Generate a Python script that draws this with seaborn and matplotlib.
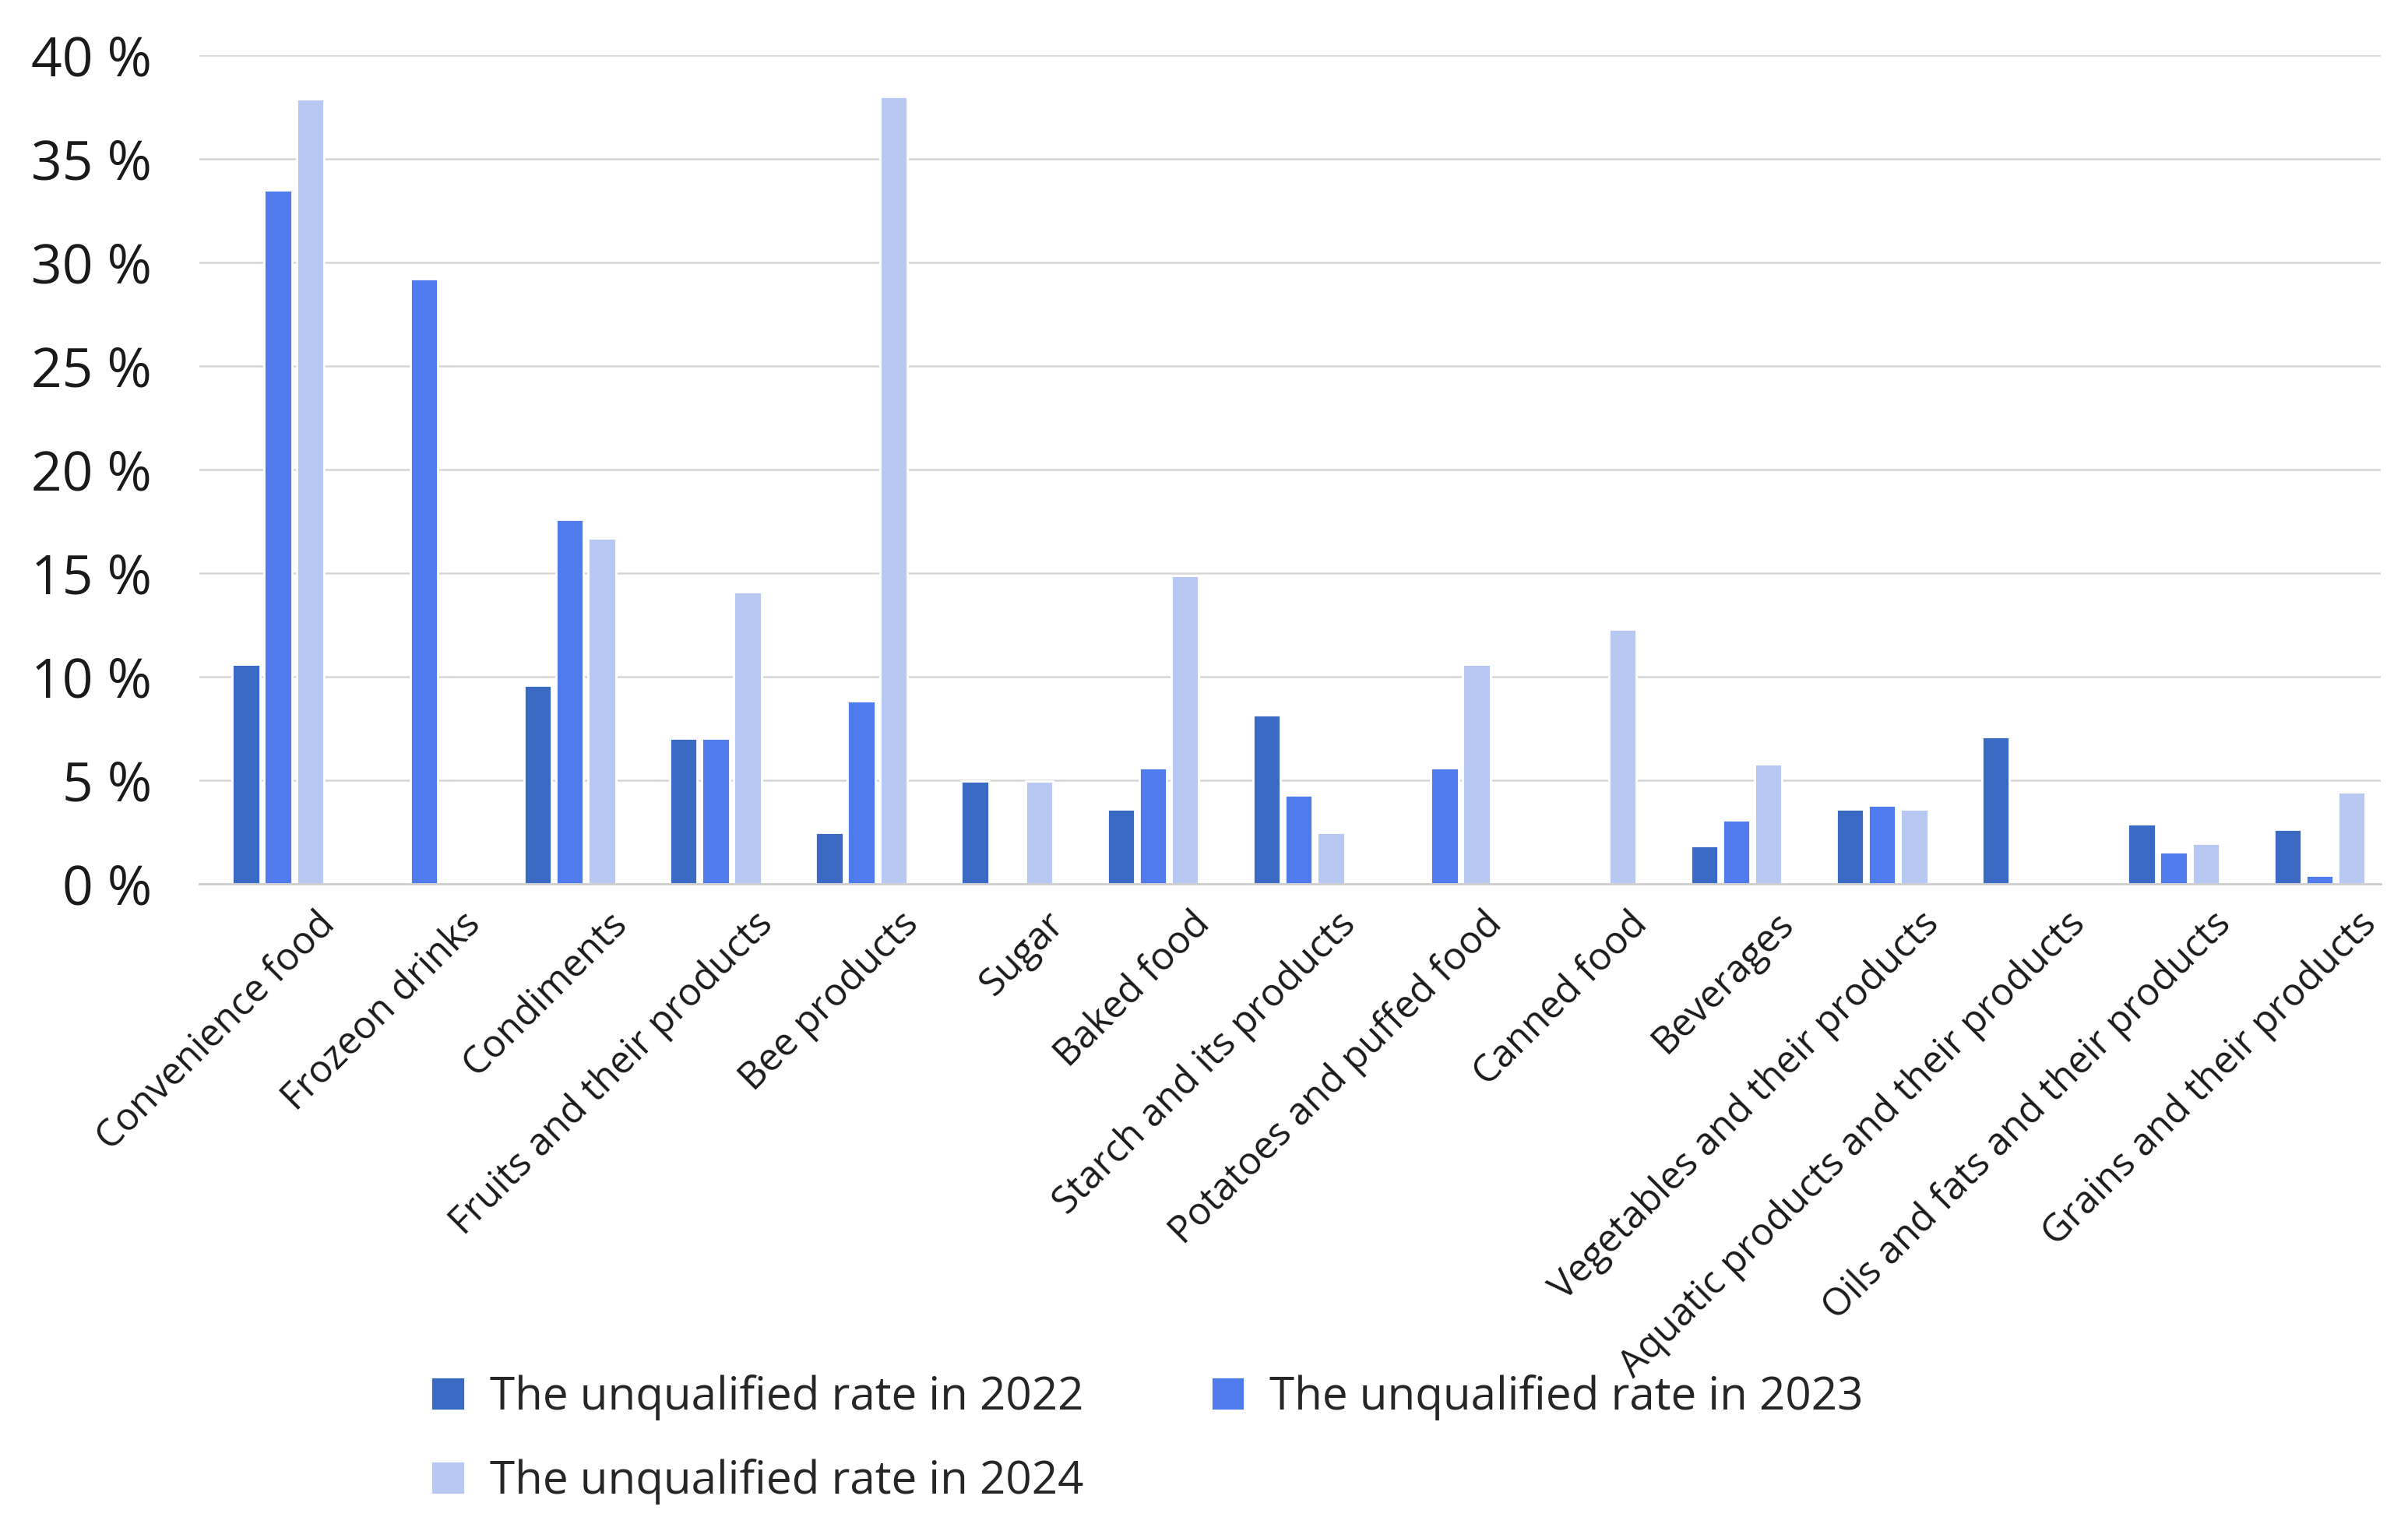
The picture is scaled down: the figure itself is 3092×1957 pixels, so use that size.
import numpy as np
import pandas as pd
import matplotlib
matplotlib.use("Agg")
import matplotlib.pyplot as plt
import matplotlib.transforms as mtransforms
import seaborn as sns

categories = ["Convenience food", "Frozeon drinks", "Condiments", "Fruits and their products",
              "Bee products", "Sugar", "Baked food", "Starch and its products",
              "Potatoes and puffed food", "Canned food", "Beverages",
              "Vegetables and their products", "Aquatic products and their products",
              "Oils and fats and their products", "Grains and their products"]
rate_2022 = [10.6, np.nan, 9.6, 7.05, 2.5, 4.95, 3.6, 8.15, np.nan, np.nan, 1.85, 3.6, 7.1, 2.9, 2.65]
rate_2023 = [33.5, 29.2, 17.6, 7.05, 8.85, np.nan, 5.6, 4.3, 5.6, np.nan, 3.1, 3.8, np.nan, 1.55, 0.4]
rate_2024 = [37.9, np.nan, 16.7, 14.1, 38.0, 4.95, 14.9, 2.5, 10.6, 12.3, 5.8, 3.6, np.nan, 1.95, 4.45]
series_names = ["The unqualified rate in 2022", "The unqualified rate in 2023", "The unqualified rate in 2024"]
colors = ["#3B6AC5", "#4F7BEC", "#B7C8F3"]
yticks = [0, 5, 10, 15, 20, 25, 30, 35, 40]
ytick_labels = [f"{v} %" for v in yticks]

rows = []
for name, vals in zip(series_names, [rate_2022, rate_2023, rate_2024]):
    for c, v in zip(categories, vals):
        rows.append({"category": c, "series": name, "rate": v})
df = pd.DataFrame(rows)

sns.set_theme(style="white")
plt.rcParams["font.family"] = ["Open Sans", "DejaVu Sans"]

fig = plt.figure(figsize=(15.46, 9.785), dpi=200)
ax = fig.add_axes([0.0828, 0.42, 0.9059, 0.5437])

sns.barplot(data=df, x="category", y="rate", hue="series", order=categories,
            hue_order=series_names, palette=colors, width=0.66, gap=0.14,
            saturation=1, ax=ax, errorbar=None)

ax.set_ylim(0, 40)
ax.set_xlim(-0.54, 14.42)
ax.set_yticks(yticks)
ax.set_yticklabels(ytick_labels, fontsize=25, color="#1a1a1a")
ax.yaxis.grid(True, color="#d6d6d6", linewidth=0.9)
ax.set_axisbelow(True)
for s in ["top", "right", "left"]:
    ax.spines[s].set_visible(False)
ax.spines["bottom"].set_color("#cccccc")
ax.spines["bottom"].set_linewidth(1.0)
ax.tick_params(axis="y", length=0, pad=22)
ax.tick_params(axis="x", length=0, pad=16)
ax.set_xlabel("")
ax.set_ylabel("")

ax.set_xticks(range(len(categories)))
ax.set_xticklabels(categories, rotation=45, ha="right", va="center",
                   rotation_mode="anchor", fontsize=17.6, color="#1a1a1a")
offset = mtransforms.ScaledTranslation(0.33, 0, fig.dpi_scale_trans)
for lbl in ax.get_xticklabels():
    lbl.set_transform(lbl.get_transform() + offset)

handles, labels = ax.get_legend_handles_labels()
if ax.get_legend() is not None:
    ax.get_legend().remove()
order = [0, 2, 1]
fig.legend([handles[i] for i in order], [labels[i] for i in order],
           loc="upper left", bbox_to_anchor=(0.179, 0.098), ncol=2,
           frameon=False, borderpad=0, borderaxespad=0, handlelength=0.74, handleheight=0.76,
           handletextpad=0.55, columnspacing=2.8, labelspacing=0.83,
           prop={"family": ["Open Sans", "DejaVu Sans"], "size": 21})

fig.savefig("out.png", dpi=200)
